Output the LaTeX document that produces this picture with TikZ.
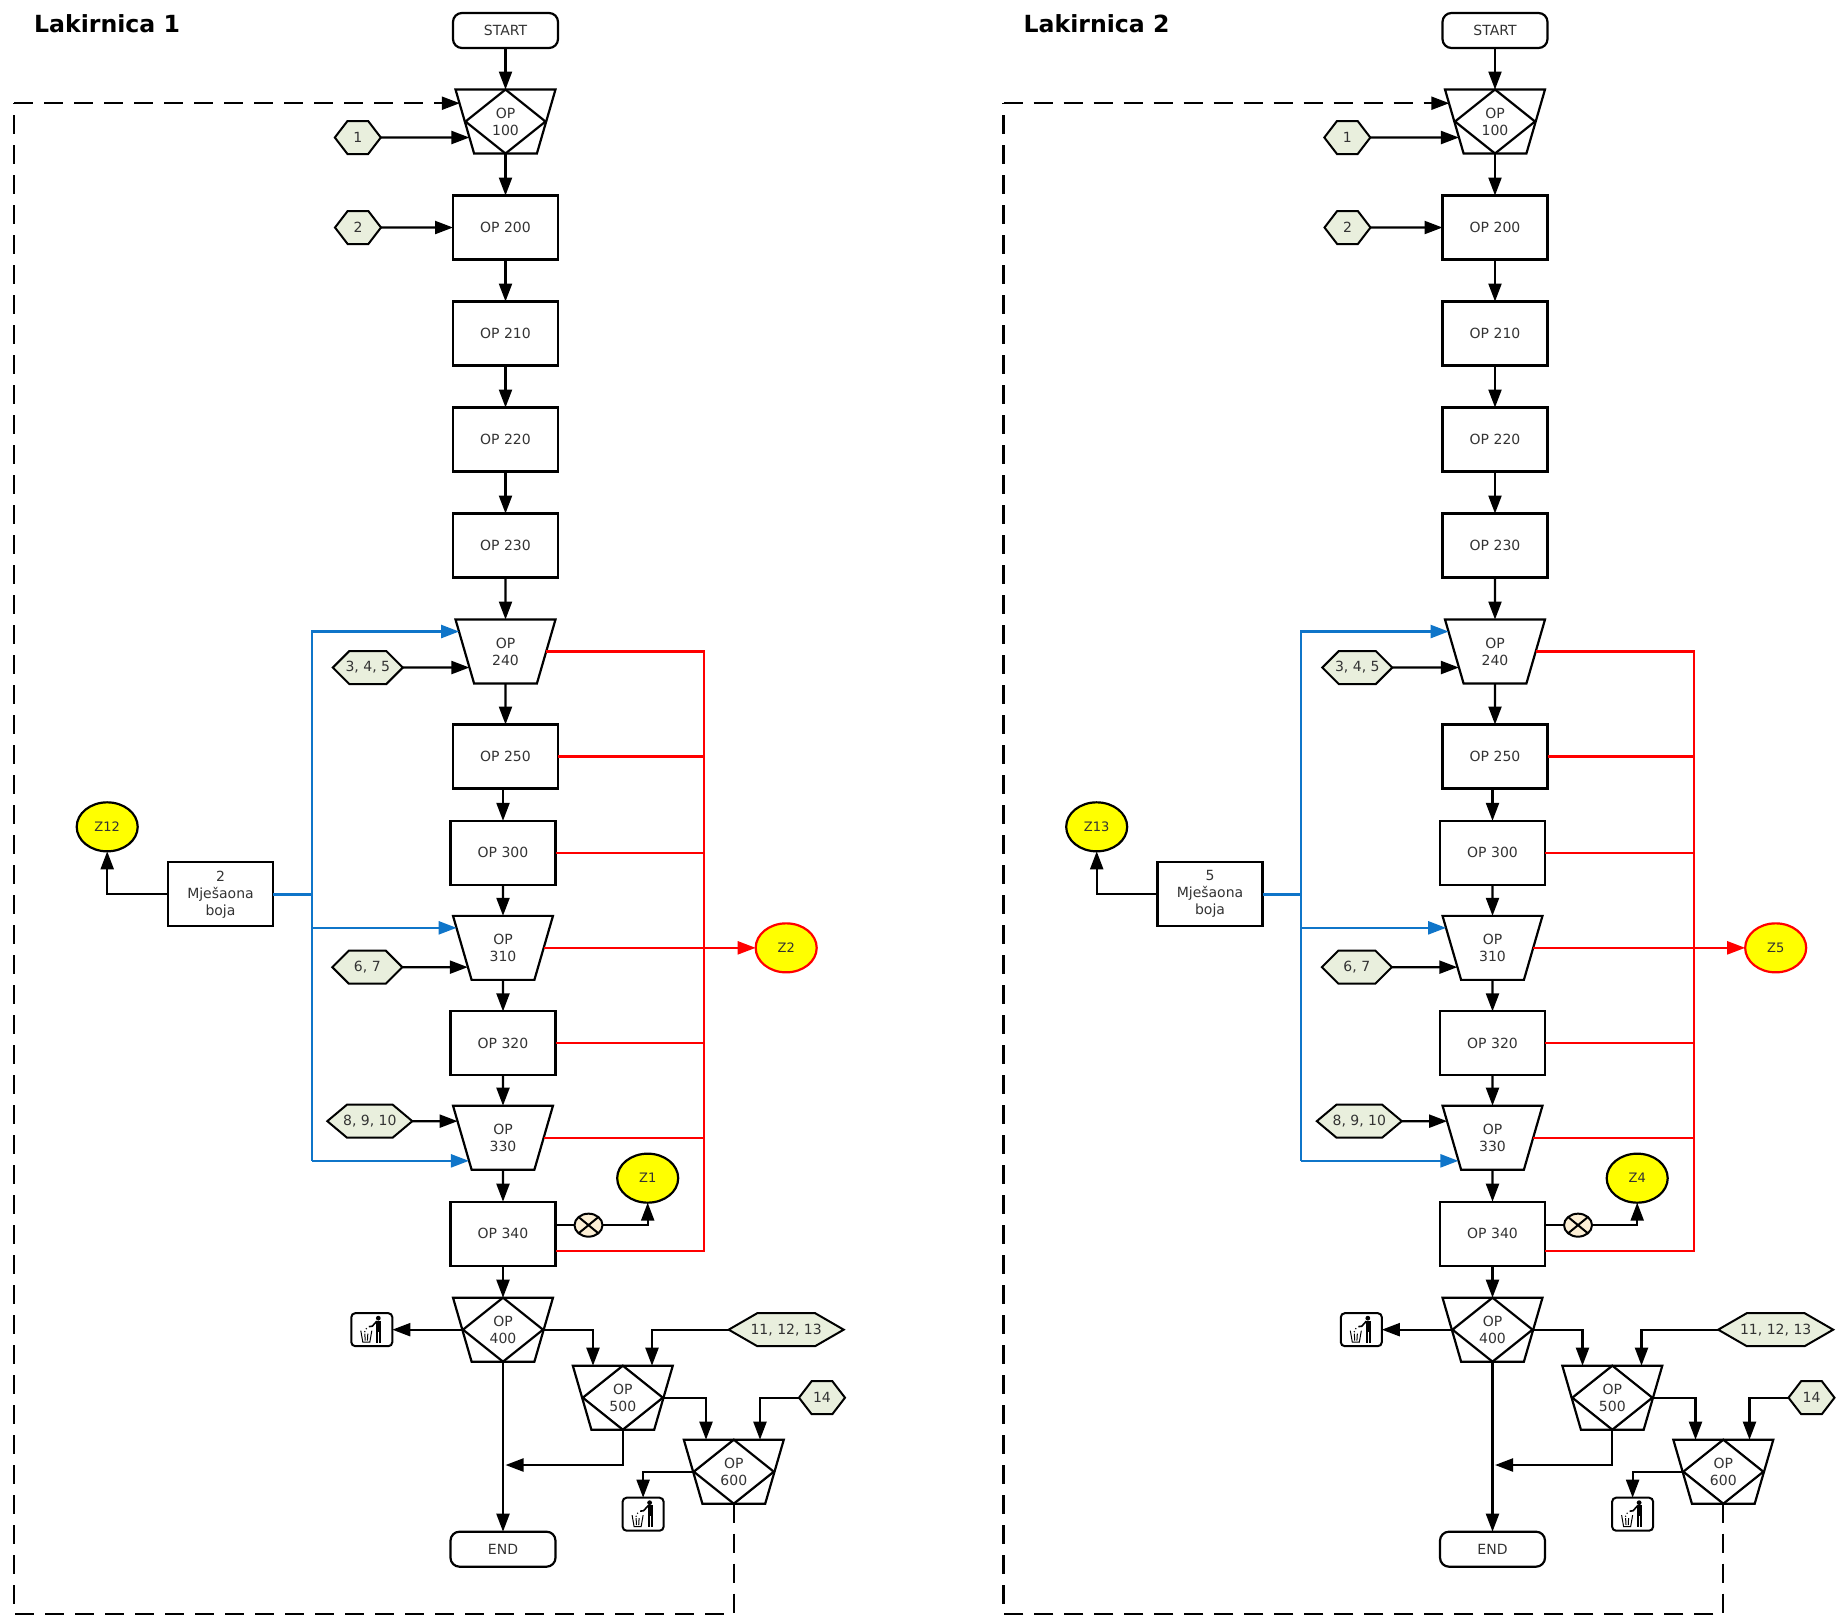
\documentclass[tikz,border=0pt]{standalone}
\usepackage{fontspec}
\setmainfont{DejaVu Sans}
\usetikzlibrary{shapes.geometric, shapes.symbols, arrows.meta, positioning}
\usepackage{xcolor}
\definecolor{hexfill}{HTML}{E9EFDD}
\definecolor{valvefill}{HTML}{FCEFD5}
\definecolor{mixblue}{HTML}{0F75C9}
\definecolor{zyellow}{HTML}{FFFF00}
\definecolor{zred}{HTML}{FF0000}
\newcommand{\hexlabel}[1]{\makebox[0pt]{#1}}

\tikzset{
    trashman/.pic={
        \fill (6.5,11.5) circle (2.4);
        \fill (4.5,9) rectangle (9.5,-2);
        \fill (4.5,-2) rectangle (6.4,-13);
        \fill (7.6,-2) rectangle (9.5,-13);
        \draw[line width=1.6pt] (5,8.5) -- (0.5,3.5) -- (-3,3);
        \draw[line width=1pt] (-11,-1) -- (-9,-12.5) -- (-2,-12.5) -- (0,-1);
        \draw[line width=1pt] (-7,-4) -- (-6.6,-11) (-4,-4) -- (-4.4,-11);
        \fill (-5.5,1) circle (0.8) (-7,-2) circle (0.8);
    }
}

\begin{document}
\begin{tikzpicture}[
    x=1pt, y=1pt,
    line join=miter,
    opbox/.style={draw, line width=2.2pt, fill=white, align=center, text=black!80, font=\fontsize{14}{17}\selectfont, minimum width=105pt, minimum height=64pt, inner sep=0pt, outer sep=0pt},
    endbox/.style={opbox, rounded corners=9pt, minimum height=35pt},
    optrap/.style={opbox, trapezium, trapezium left angle=106, trapezium right angle=106, trapezium stretches=true, minimum width=100pt},
    opdia/.style={opbox, diamond, aspect=1.23, fill=none, minimum width=80pt, minimum height=64pt},
    hexbox/.style={opbox, signal, signal to=west and east, signal pointer angle=105, fill=hexfill, line width=2pt, minimum height=33pt, minimum width=46pt},
    zcircle/.style={opbox, ellipse, fill=zyellow, font=\fontsize{13}{16}\selectfont, minimum width=61pt, minimum height=49pt},
    valve/.style={draw, line width=2pt, ellipse, fill=valvefill, minimum width=28pt, minimum height=23pt, inner sep=0pt, outer sep=0pt,
        path picture={\draw[line width=2pt] (path picture bounding box.north west) -- (path picture bounding box.south east) (path picture bounding box.south west) -- (path picture bounding box.north east);}},
    binbox/.style={draw, line width=2pt, rounded corners=4pt, minimum width=41pt, minimum height=33pt, inner sep=0pt, outer sep=0pt},
    title/.style={font=\fontsize{23.6}{27}\selectfont\bfseries, anchor=base west, inner sep=0pt},
    arrow/.style={line width=2.2pt, -{Triangle[length=18pt, width=13pt]}},
    plain/.style={line width=2.2pt},
    backdash/.style={plain, dash pattern=on 19pt off 11pt},
    redline/.style={line width=2.2pt, zred},
    blueline/.style={line width=2.4pt, mixblue}
]
\useasboundingbox (0,0) rectangle (1842,-1615);

\foreach \p/\dx/\num/\mix/\zmix/\zdef/\zvalve in {a/0/1/2/Z12/Z2/Z1, b/989.5/2/5/Z13/Z5/Z4} {
\begin{scope}[xshift=\dx pt]

\node[title] (\p title) at (34,-32) {Lakirnica \num};

% main column
\node[endbox] (\p start) at (505.5,-30.5) {START};
\node[optrap, below=41.5pt of \p start] (\p100) {OP\\100};
\node[opdia] (\p100d) at (\p100) {};
\node[opbox, below=42pt of \p100] (\p200) {OP 200};
\node[opbox, below=42pt of \p200] (\p210) {OP 210};
\node[opbox, below=42pt of \p210] (\p220) {OP 220};
\node[opbox, below=42pt of \p220] (\p230) {OP 230};
\node[optrap, below=42pt of \p230] (\p240) {OP\\240};
\node[opbox, below=41pt of \p240] (\p250) {OP 250};
\node[opbox, below=32.3pt of \p250, xshift=-2.5pt] (\p300) {OP 300};
\node[optrap, below=31pt of \p300] (\p310) {OP\\310};
\node[opbox, below=31.5pt of \p310] (\p320) {OP 320};
\node[optrap, below=30.3pt of \p320] (\p330) {OP\\330};
\node[opbox, below=32pt of \p330] (\p340) {OP 340};
\node[optrap, below=32pt of \p340] (\p400) {OP\\400};
\node[opdia] (\p400d) at (\p400) {};
\node[endbox, below=170pt of \p400] (\p end) {END};

% lower branch
\node[optrap, below=4pt of \p400, xshift=119.8pt] (\p500) {OP\\500};
\node[opdia] (\p500d) at (\p500) {};
\node[optrap, below=10pt of \p500, xshift=111pt] (\p600) {OP\\600};
\node[opdia] (\p600d) at (\p600) {};

% inputs
\node[hexbox, left=84pt of \p100, yshift=-16pt] (\p hexa) {\hexlabel{1}};
\node[hexbox, left=72pt of \p200] (\p hexb) {\hexlabel{2}};
\node[hexbox, left=62pt of \p240, yshift=-16pt, minimum width=70pt, signal pointer angle=90] (\p hexc) {\hexlabel{3, 4, 5}};
\node[hexbox, left=60pt of \p310, yshift=-19.3pt, minimum width=70pt, signal pointer angle=90] (\p hexd) {\hexlabel{6, 7}};
\node[hexbox, left=50pt of \p330, yshift=16.5pt, minimum width=85pt, signal pointer angle=80] (\p hexe) {\hexlabel{8, 9, 10}};
\node[hexbox, right=185pt of \p400, minimum width=115pt, signal pointer angle=60] (\p hexf) {\hexlabel{11, 12, 13}};
\node[hexbox, right=135.5pt of \p500] (\p hexg) {\hexlabel{14}};

% mixing room and collectors
\node[opbox, left=177.5pt of \p300, yshift=-41.5pt] (\p mix) {\mix\\Mješaona\\boja};
\node[zcircle, left=30.3pt of \p mix, yshift=67.5pt] (\p zmix) {\zmix};
\node[zcircle, draw=zred, right=212pt of \p310] (\p zdef) {\zdef};
\node[zcircle, right=61.7pt of \p340, yshift=55.5pt] (\p zvalve) {\zvalve};
\node[valve, right=19pt of \p340, yshift=8.5pt] (\p valve) {};
\node[binbox, left=70pt of \p400] (\p bina) {};
\pic at (\p bina) {trashman};
\node[binbox, left=29.5pt of \p600, yshift=-42.5pt] (\p binb) {};
\pic at (\p binb) {trashman};

\coordinate (\p redbus) at (704.3,0);
\coordinate[yshift=-17.5pt] (\p redend) at (\p340.east);
\coordinate (\p bus) at (311.7,0);
\coordinate (\p tipa) at ([shift={(-5.7pt,20pt)}]\p240.west);
\coordinate (\p tipb) at ([shift={(-5.7pt,20pt)}]\p310.west);
\coordinate (\p tipc) at ([shift={(6.6pt,-23.2pt)}]\p330.west);
\coordinate (\p join) at (505.5,-1465);
\coordinate (\p backa) at (733.8,-1613.8);
\coordinate (\p backb) at (14,-1613.8);
\coordinate (\p tipd) at ([shift={(-5pt,18.3pt)}]\p100.west);
\coordinate (\p backc) at (14,0);

% main flow
\draw[arrow] (\p start) -- (\p100d.north);
\draw[arrow] (\p100d.south) -- (\p200);
\draw[arrow] (\p200) -- (\p210);
\draw[arrow] (\p210) -- (\p220);
\draw[arrow] (\p220) -- (\p230);
\draw[arrow] (\p230) -- (\p240);
\draw[arrow] (\p240) -- (\p250);
\draw[arrow] ([xshift=-2.5pt]\p250.south) -- (\p300);
\draw[arrow] (\p300) -- (\p310);
\draw[arrow] (\p310) -- (\p320);
\draw[arrow] (\p320) -- (\p330);
\draw[arrow] (\p330) -- (\p340);
\draw[arrow] (\p340) -- (\p400d.north);
\draw[arrow] (\p400d.south) -- (\p end);
\draw[arrow] (\p400d.east) -| ([xshift=-29.8pt]\p500d.north);
\draw[arrow] (\p500d.south) |- (\p join);
\draw[arrow] (\p500d.east) -| ([xshift=-27.8pt]\p600d.north);
\draw[arrow] (\p400d.west) -- (\p bina);
\draw[arrow] (\p600d.west) -| (\p binb);

% inputs
\draw[arrow] (\p hexa) -- ([xshift=4.6pt]\p100.west |- \p hexa);
\draw[arrow] (\p hexb) -- (\p200);
\draw[arrow] (\p hexc) -- ([xshift=4.6pt]\p240.west |- \p hexc);
\draw[arrow] (\p hexd) -- ([xshift=5.5pt]\p310.west |- \p hexd);
\draw[arrow] (\p hexe) -- ([xshift=-4.7pt]\p330.west |- \p hexe);
\draw[arrow] (\p hexf) -| ([xshift=29.2pt]\p500d.north);
\draw[arrow] (\p hexg) -| ([xshift=26.2pt]\p600d.north);

% collectors
\draw[plain] (\p340.east |- \p valve) -- (\p valve);
\draw[arrow] (\p valve) -| (\p zvalve);
\draw[arrow] (\p mix) -| (\p zmix);
\draw[redline] (\p240.east) -| (\p redend -| \p redbus) -- (\p redend);
\draw[redline] (\p250.east) -- (\p250.east -| \p redbus);
\draw[redline] (\p300.east) -- (\p300.east -| \p redbus);
\draw[redline, -{Triangle[length=18pt, width=13pt]}] (\p310.east) -- (\p zdef);
\draw[redline] (\p320.east) -- (\p320.east -| \p redbus);
\draw[redline] (\p330.east) -- (\p330.east -| \p redbus);

% paint feed
\draw[blueline] (\p mix) -- (\p mix -| \p bus);
\draw[blueline, -{Triangle[length=18pt, width=13pt]}] (\p tipc -| \p bus) -- (\p tipa -| \p bus) -- (\p tipa);
\draw[blueline, -{Triangle[length=18pt, width=13pt]}] (\p tipb -| \p bus) -- (\p tipb);
\draw[blueline, -{Triangle[length=18pt, width=13pt]}] (\p tipc -| \p bus) -- (\p tipc);

% return line
\draw[backdash] (\p600d.south) -- (\p backa) -- (\p backb) -- (\p tipd -| \p backc);
\draw[backdash, -{Triangle[length=18pt, width=13pt]}] (\p tipd -| \p backc) -- (\p tipd);

\end{scope}
}

\end{tikzpicture}
\end{document}
